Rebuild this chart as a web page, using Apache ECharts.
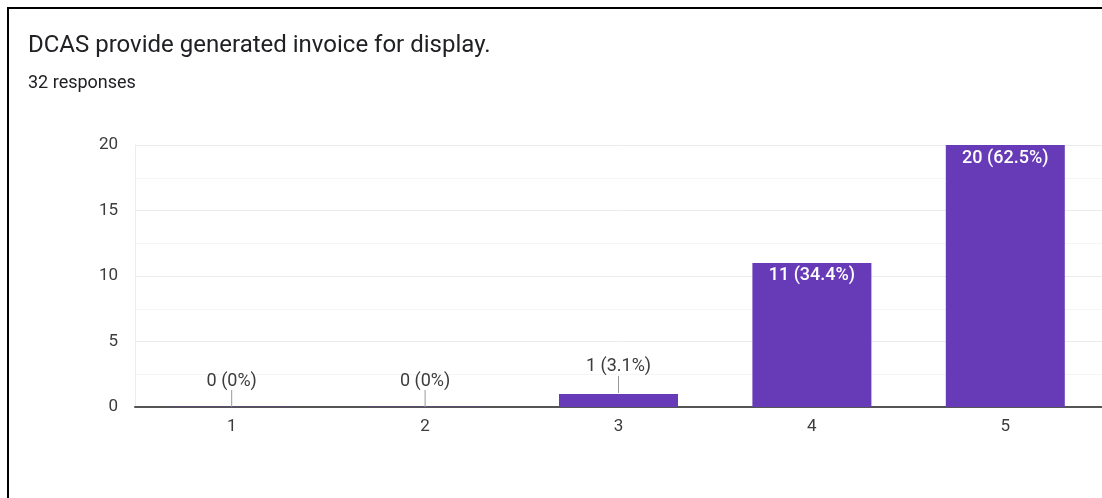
<!DOCTYPE html>
<html>
<head>
<meta charset="utf-8">
<script src="https://cdn.jsdelivr.net/npm/echarts@6/dist/echarts.min.js"></script>
<style>
  html, body { margin: 0; padding: 0; background: #fff; }
  #chart { width: 1102px; height: 498px; }
</style>
</head>
<body>
<div id="chart"></div>
<script>
// Survey question and answers (Likert scale 1–5)
const titleText = 'DCAS provide generated invoice for display.';
const categories = ['1', '2', '3', '4', '5'];
const counts = [0, 0, 1, 11, 20];
const yTicks = [0, 5, 10, 15, 20];

const total = counts.reduce((a, b) => a + b, 0);
const subtitleText = total + ' responses';

function pctLabel(v) {
  const p = Math.round(v / total * 1000) / 10;
  return v + ' (' + p + '%)';
}

const PURPLE = '#673ab7';
const FONT = 'Roboto, Arial, sans-serif';
// Bars shorter than this get their label above with a short leader line
const INSIDE_MIN = 3;

const chart = echarts.init(document.getElementById('chart'), null, { renderer: 'canvas' });

chart.setOption({
  backgroundColor: '#fff',
  animation: false,
  title: [
    {
      text: titleText,
      left: 23, top: 29,
      textStyle: { fontFamily: FONT, fontSize: 24, fontWeight: 'normal', color: '#202124' }
    },
    {
      text: subtitleText,
      left: 23, top: 69,
      textStyle: { fontFamily: FONT, fontSize: 18, fontWeight: 'normal', color: '#202124' }
    }
  ],
  graphic: [
    { type: 'line', shape: { x1: 8, y1: 7, x2: 8, y2: 498 }, style: { stroke: '#000', lineWidth: 2 } },
    { type: 'line', shape: { x1: 7, y1: 8, x2: 1102, y2: 8 }, style: { stroke: '#000', lineWidth: 2 } }
  ],
  grid: { left: 135, right: 0, top: 145, bottom: 91 },
  xAxis: {
    type: 'category',
    data: categories,
    axisLine: { show: true, lineStyle: { color: '#555', width: 2 } },
    axisTick: { show: false },
    axisLabel: { fontFamily: FONT, fontSize: 17, color: '#3c3c3c', margin: 11 },
    splitLine: { show: false }
  },
  yAxis: {
    type: 'value',
    min: yTicks[0],
    max: yTicks[yTicks.length - 1],
    interval: 5,
    axisLine: { show: true, lineStyle: { color: '#ececec', width: 1 } },
    axisTick: { show: false },
    axisLabel: { fontFamily: FONT, fontSize: 17, color: '#3c3c3c', margin: 17 },
    splitLine: { show: true, lineStyle: { color: '#ebebeb', width: 1 } },
    minorTick: { show: false, splitNumber: 2 },
    minorSplitLine: { show: true, lineStyle: { color: '#f5f5f5', width: 1 } }
  },
  series: [
    {
      type: 'bar',
      data: counts.map(v => ({
        value: v,
        itemStyle: v === 0 ? { color: 'rgba(103,58,183,0.25)' } : { color: PURPLE }
      })),
      barWidth: 119,
      barMinHeight: 1,
      z: 2,
      label: {
        show: true,
        position: 'insideTop',
        distance: 4,
        fontFamily: FONT,
        fontSize: 18,
        fontWeight: 500,
        color: '#fff',
        formatter: p => (p.value >= INSIDE_MIN ? pctLabel(p.value) : '')
      }
    },
    {
      // labels with leader lines for short bars
      type: 'custom',
      data: counts.map((v, i) => [i, v]),
      z: 3,
      silent: true,
      renderItem: (params, api) => {
        const v = api.value(1);
        if (v >= INSIDE_MIN) return null;
        const pt = api.coord([api.value(0), v]);
        const top = v === 0 ? pt[1] : pt[1] - 1;
        return {
          type: 'group',
          children: [
            {
              type: 'line',
              shape: { x1: pt[0], y1: top, x2: pt[0], y2: top - 17 },
              style: { stroke: '#999', lineWidth: 1 }
            },
            {
              type: 'text',
              x: pt[0], y: top - 26,
              style: {
                text: pctLabel(v),
                fontFamily: FONT, fontSize: 18,
                fill: '#3c3c3c',
                align: 'center', verticalAlign: 'middle'
              }
            }
          ]
        };
      }
    }
  ]
});
</script>
</body>
</html>
